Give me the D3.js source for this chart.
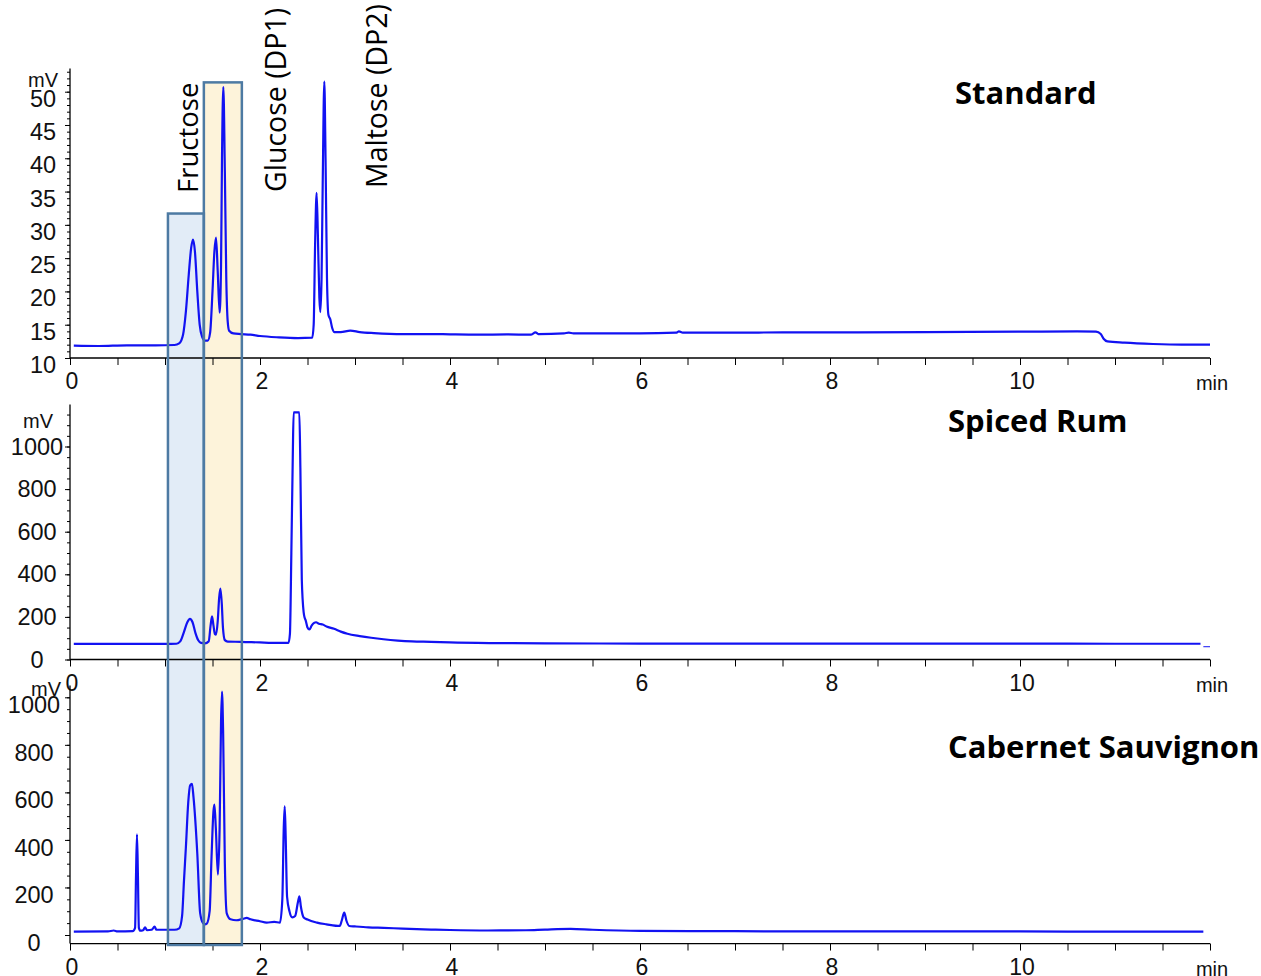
<!DOCTYPE html>
<html><head><meta charset="utf-8">
<script src="https://cdn.jsdelivr.net/npm/d3@7"></script>
<style>body{margin:0;background:#fff;} svg{display:block;}</style>
</head><body>
<svg id="chart" width="1261" height="976"></svg>
<script>
// ---------- DATA ----------
const sampleNames = ["Standard", "Spiced Rum", "Cabernet Sauvignon"];
const compoundLabels = ["Fructose", "Glucose (DP1)", "Maltose (DP2)"];
const xMajorTicks = [0, 2, 4, 6, 8, 10];
const xUnit = "min";
const yUnit = "mV";
const stdYTicks = [10, 15, 20, 25, 30, 35, 40, 45, 50];
const sampleYTicks = [0, 200, 400, 600, 800, 1000];

// [time (min), signal (mV)]
const standardTrace = [
 [0.04,11.85],[0.3,11.8],[0.6,11.9],[0.9,11.9],[1.1,11.95],[1.15,12.2],[1.19,13.5],[1.22,17],
 [1.25,22.5],[1.275,26.5],[1.295,27.8],[1.315,26],[1.34,20],[1.365,15],[1.39,13.2],[1.42,12.6],
 [1.45,12.6],[1.475,13.8],[1.5,20],[1.52,26],[1.537,28.1],[1.555,23],[1.575,16.8],[1.59,24],
 [1.6,40],[1.614,50.7],[1.63,38],[1.645,22],[1.66,15.5],[1.675,14.1],[1.72,13.7],[1.8,13.6],
 [1.9,13.5],[2.0,13.3],[2.2,13.1],[2.4,13.0],[2.55,13.05],[2.565,15],[2.58,27],[2.596,34.8],
 [2.61,28],[2.625,19],[2.635,16.9],[2.648,22],[2.66,36],[2.677,51.5],[2.69,40],[2.705,22],
 [2.72,16.5],[2.74,15.8],[2.76,14.5],[2.78,13.9],[2.85,13.9],[2.95,14.1],[3.05,13.9],[3.2,13.75],
 [3.5,13.6],[3.8,13.6],[4.0,13.55],[4.3,13.5],[4.6,13.55],[4.85,13.5],[4.9,13.85],[4.93,13.6],
 [5.2,13.7],[5.25,13.8],[5.3,13.7],[6.0,13.7],[6.38,13.8],[6.41,14.0],[6.45,13.8],[7.0,13.8],
 [7.5,13.85],[8.0,13.85],[9.0,13.9],[10.0,13.95],[10.6,14.0],[10.8,13.95],[10.85,13.6],
 [10.88,12.9],[10.92,12.5],[11.1,12.3],[11.4,12.1],[11.7,12.0],[12.0,12.0]
];
const spicedRumTrace = [
 [0.04,73],[0.5,73],[1.0,73],[1.12,74],[1.16,85],[1.2,130],[1.235,175],[1.263,191],[1.29,175],
 [1.32,125],[1.35,90],[1.38,78],[1.42,76],[1.46,85],[1.48,160],[1.495,203],[1.51,160],[1.525,120],
 [1.537,117],[1.555,180],[1.57,290],[1.583,333],[1.598,260],[1.61,150],[1.63,91],[1.66,84],
 [1.8,83],[2.0,80],[2.2,78],[2.3,78],[2.315,120],[2.33,500],[2.345,950],[2.354,1160],[2.414,1160],
 [2.425,900],[2.44,376],[2.46,220],[2.47,196],[2.48,185],[2.5,150],[2.52,141],[2.545,160],
 [2.57,172],[2.59,175],[2.62,168],[2.66,164],[2.7,155],[2.78,144],[2.85,131],[2.92,121],
 [3.05,110],[3.17,102],[3.3,95],[3.45,89],[3.6,85],[3.8,83],[4.0,80],[4.5,77],[5.0,76],
 [6.0,75],[7.0,75],[8.0,75],[9.0,75],[10.0,75],[11.0,74],[11.9,74]
];
const spicedRumEnd = [[11.93,60],[12.0,60]];
const cabernetTrace = [
 [0.04,14],[0.4,15],[0.46,19],[0.5,15],[0.66,16],[0.685,30],[0.695,250],[0.705,423],[0.715,250],
 [0.725,30],[0.74,18],[0.77,20],[0.79,32],[0.81,20],[0.86,22],[0.89,35],[0.91,22],[1.0,22],
 [1.1,22],[1.15,28],[1.18,80],[1.2,230],[1.22,370],[1.245,560],[1.265,630],[1.284,636],[1.3,580],
 [1.34,342],[1.37,92],[1.4,50],[1.42,45],[1.44,48],[1.47,100],[1.49,330],[1.51,520],[1.52,549],
 [1.535,450],[1.557,254],[1.575,450],[1.59,900],[1.6,1024],[1.612,850],[1.63,300],[1.65,91],
 [1.69,66],[1.75,62],[1.82,68],[1.86,72],[1.9,66],[2.0,58],[2.07,52],[2.15,55],[2.21,52],
 [2.235,150],[2.25,450],[2.26,541],[2.27,420],[2.285,161],[2.31,100],[2.34,74],[2.37,80],
 [2.4,140],[2.415,163],[2.43,120],[2.46,74],[2.5,65],[2.6,52],[2.7,45],[2.84,38],[2.86,60],
 [2.887,94],[2.91,60],[2.94,38],[3.0,36],[3.14,32],[3.3,30],[3.5,27],[3.8,23],[4.0,21],
 [4.4,19],[4.8,20],[5.0,23],[5.27,26],[5.5,22],[6.0,17],[7.0,16],[8.0,15],[9.0,15],[10.0,15],
 [11.0,14],[11.93,14]
];
// highlight windows: [start min, end min, top value on Standard axis]
const fructoseWindow = [1.031, 1.409, 31.7];
const glucoseWindow = [1.409, 1.809, 51.4];

// ---------- LAYOUT ----------
const svg = d3.select("#chart");
const traceColor = "#1212f2";
const x = d3.scaleLinear().domain([0, 12]).range([70, 1210]);

const panels = [
  {name: sampleNames[0], trace: standardTrace, y: d3.scaleLinear().domain([10, 50]).range([358, 91.7]),
   yMin: 10, yTop: 53.5, ticks: stdYTicks, minor: d3.range(10, 53.5, 1), labelX: 43, labelDy: 15,
   unitPos: [43, 87], title: [955, 104]},
  {name: sampleNames[1], trace: spicedRumTrace, y: d3.scaleLinear().domain([0, 1000]).range([659.5, 446.5]),
   yMin: 0, yTop: 1197, ticks: sampleYTicks, minor: d3.range(0, 1197, 50), labelX: 37, labelDy: 8,
   unitPos: [38, 428], title: [948, 432]},
  {name: sampleNames[2], trace: cabernetTrace, y: d3.scaleLinear().domain([0, 1000]).range([935, 697.3]),
   yMin: -36, yTop: 1050, ticks: sampleYTicks, minor: d3.range(0, 1050, 50), labelX: 34, labelDy: 16,
   unitPos: [46, 696], title: [948, 758]}
];

// highlight boxes (fills first)
const boxBottom = panels[2].y(-42);
const boxes = [
  {w: fructoseWindow, fill: "#e2ecf7"},
  {w: glucoseWindow, fill: "#fdf3da"}
];
svg.append("g").selectAll("rect").data(boxes).join("rect")
  .attr("x", d => x(d.w[0])).attr("width", d => x(d.w[1]) - x(d.w[0]))
  .attr("y", d => panels[0].y(d.w[2])).attr("height", d => boxBottom - panels[0].y(d.w[2]))
  .attr("fill", d => d.fill).attr("stroke", "none");

const line = y => d3.line().x(d => x(d[0])).y(d => y(d[1])).curve(d3.curveMonotoneX);
const axisFont = "'Liberation Sans', Arial, sans-serif";

panels.forEach((p, i) => {
  const g = svg.append("g");
  const xAxisY = p.y(p.yMin);
  // x axis
  const xa = g.append("g").attr("transform", `translate(0,${xAxisY})`)
    .call(d3.axisBottom(x).tickValues(d3.range(0, 12.01, 0.5)).tickSize(7).tickFormat(""));
  xa.select(".domain").attr("d", `M${x(0)},0H${x(12)}`).attr("stroke", "#000").attr("stroke-width", 1.3);
  xa.selectAll(".tick line").attr("stroke", "#000").attr("stroke-width", 1);
  g.selectAll(".xl").data(xMajorTicks).join("text").attr("class", "xl")
    .attr("x", d => x(d) + 2).attr("y", xAxisY + 31).attr("text-anchor", "middle")
    .attr("font-family", axisFont).attr("font-size", 23).attr("fill", "#111").text(d => d);
  g.append("text").attr("x", x(12) + 2).attr("y", xAxisY + 32).attr("text-anchor", "middle")
    .attr("font-family", axisFont).attr("font-size", 20).attr("fill", "#111").text(xUnit);

  // y axis
  const ya = g.append("g").attr("transform", `translate(${x(0)},0)`)
    .call(d3.axisLeft(p.y).tickValues(p.minor).tickSize(3).tickFormat(""));
  ya.select(".domain").attr("d", `M0,${p.y(p.yTop)}V${xAxisY}`).attr("stroke", "#000").attr("stroke-width", 1.3);
  ya.selectAll(".tick line").attr("stroke", "#000");
  const yaM = g.append("g").attr("transform", `translate(${x(0)},0)`)
    .call(d3.axisLeft(p.y).tickValues(p.ticks).tickSize(5).tickFormat(""));
  yaM.select(".domain").remove();
  yaM.selectAll(".tick line").attr("stroke", "#000");
  g.selectAll(".yl").data(p.ticks).join("text").attr("class", "yl")
    .attr("x", p.labelX).attr("y", d => p.y(d) + p.labelDy).attr("text-anchor", "middle")
    .attr("font-family", axisFont).attr("font-size", 23.5).attr("fill", "#111").text(d => d);
  g.append("text").attr("x", p.unitPos[0]).attr("y", p.unitPos[1]).attr("text-anchor", "middle")
    .attr("font-family", axisFont).attr("font-size", 20).attr("fill", "#111").text(yUnit);

  // trace
  g.append("path").datum(p.trace).attr("d", line(p.y))
    .attr("fill", "none").attr("stroke", traceColor).attr("stroke-width", 2.2).attr("stroke-linejoin", "round");
  if (i === 1) {
    g.append("path").datum(spicedRumEnd).attr("d", line(p.y))
      .attr("fill", "none").attr("stroke", traceColor).attr("stroke-width", 1);
  }
  // title
  g.append("text").attr("x", p.title[0]).attr("y", p.title[1])
    .attr("font-family", "'Open Sans', sans-serif").attr("font-weight", "bold").attr("font-size", 31)
    .attr("fill", "#000").text(p.name);
});

// box outlines on top
svg.append("g").selectAll("rect").data(boxes).join("rect")
  .attr("x", d => x(d.w[0])).attr("width", d => x(d.w[1]) - x(d.w[0]))
  .attr("y", d => panels[0].y(d.w[2])).attr("height", d => boxBottom - panels[0].y(d.w[2]))
  .attr("fill", "none").attr("stroke", "#4d7aa3").attr("stroke-width", 2.5);

// compound labels (rotated)
const labelPos = [[198, 193], [286, 192], [387, 188]];
const labelSize = [27.5, 28.5, 28.5];
svg.append("g").selectAll("text").data(compoundLabels).join("text")
  .attr("transform", (d, i) => `translate(${labelPos[i][0]},${labelPos[i][1]}) rotate(-90)`)
  .attr("font-family", "'Open Sans', sans-serif").attr("font-size", (d, i) => labelSize[i]).attr("fill", "#000")
  .text(d => d);
</script>
</body></html>
